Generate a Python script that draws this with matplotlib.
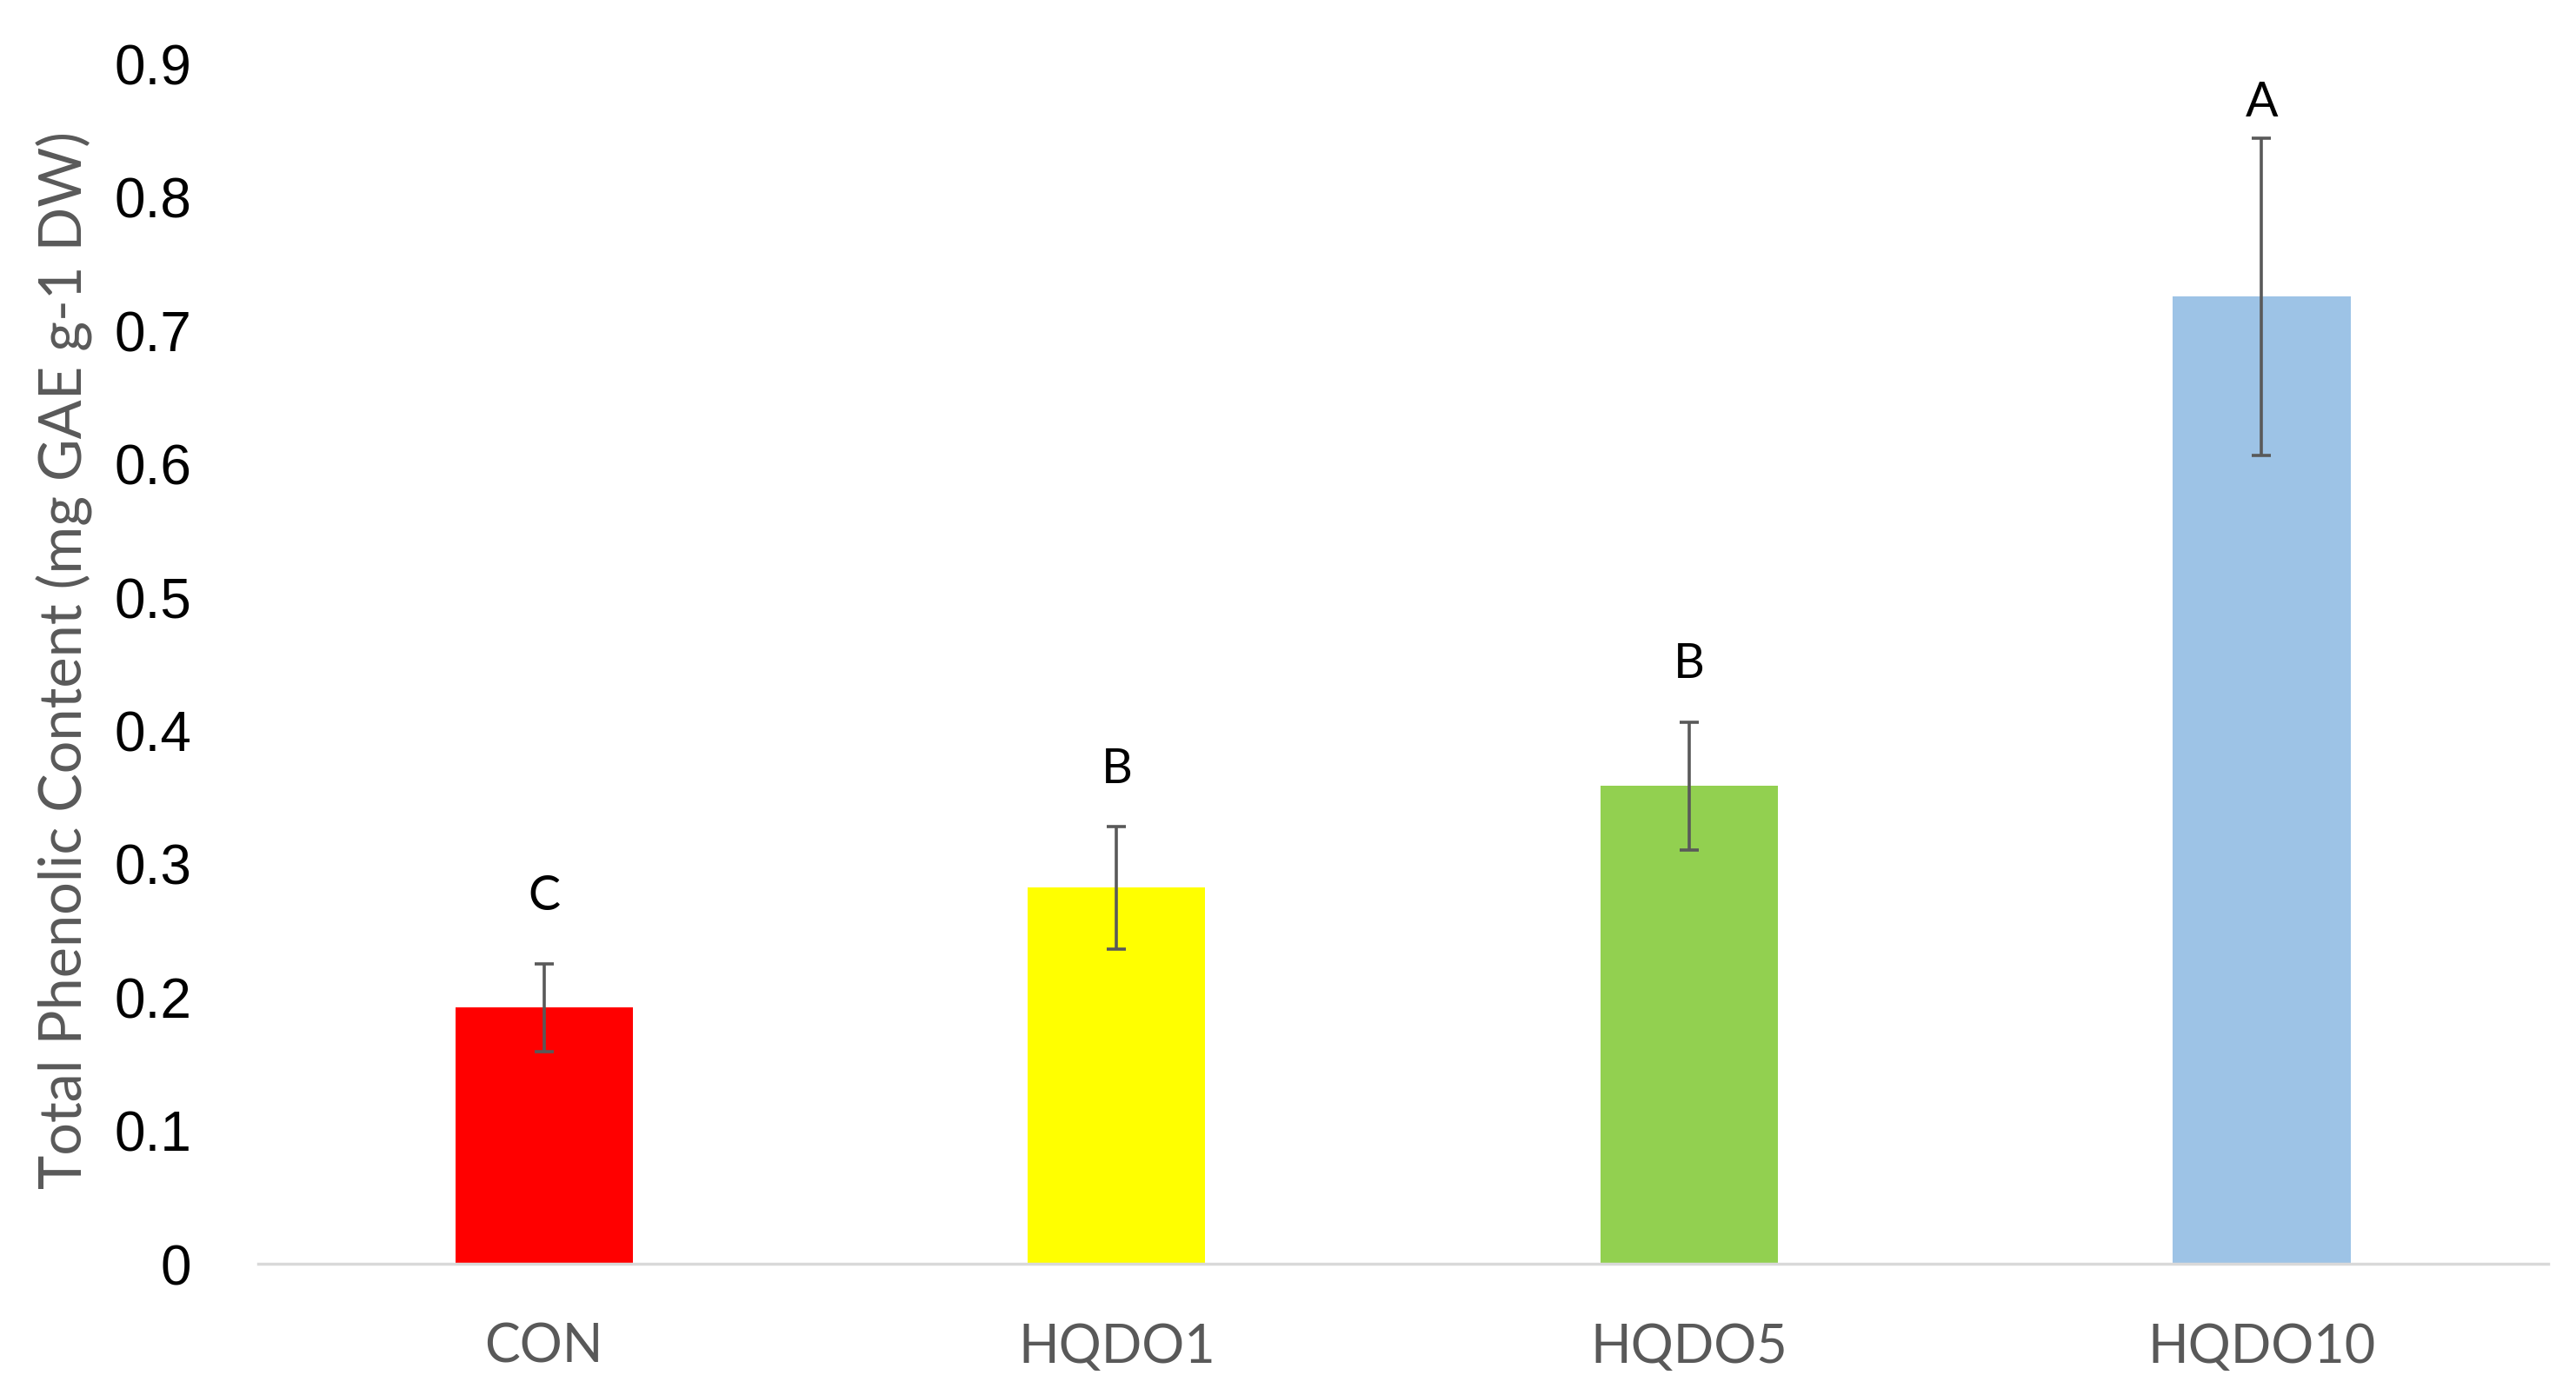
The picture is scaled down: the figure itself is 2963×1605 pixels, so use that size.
import matplotlib.pyplot as plt
import numpy as np

# data
groups = ['CON', 'HQDO1', 'HQDO5', 'HQDO10']
values = [0.192, 0.282, 0.358, 0.725]
errors = [0.033, 0.046, 0.048, 0.119]
letters = ['C', 'B', 'B', 'A']
letter_y = [0.276, 0.371, 0.450, 0.871]
colors = ['#FF0000', '#FFFF00', '#92D050', '#9DC3E6']

fig = plt.figure(figsize=(29.63, 16.06), dpi=100)
ax = fig.add_axes([0.1001, 0.0941, 0.889, 0.86])

x = np.arange(len(groups))
ax.bar(x, values, width=0.31, color=colors, zorder=2)
ax.errorbar(x, values, yerr=errors, fmt='none', ecolor='#595959',
            elinewidth=2.6, capsize=8, capthick=2.6, zorder=3)

for xi, lab, ly in zip(x, letters, letter_y):
    ax.text(xi, ly, lab, ha='center', va='center', fontsize=40,
            family='Lato', color='black')

ax.set_xlim(-0.5, 3.5)
ax.set_ylim(0, 0.9)
ax.set_yticks(np.arange(0, 0.91, 0.1))
ax.set_yticklabels(['0'] + ['%.1f' % v for v in np.arange(0.1, 0.91, 0.1)],
                   family='Liberation Sans', fontsize=46)
ax.set_xticks(x)
ax.set_xticklabels(groups, family='Lato', fontsize=44, color='#595959')
ax.tick_params(axis='both', length=0)
ax.tick_params(axis='y', pad=55)
ax.tick_params(axis='x', pad=48)

for s in ['top', 'right', 'left']:
    ax.spines[s].set_visible(False)
ax.spines['bottom'].set_color('#d9d9d9')
ax.spines['bottom'].set_linewidth(2.5)

fig.text(0.025, 0.527, 'Total Phenolic Content (mg GAE g-1 DW)', rotation=90,
         ha='center', va='center', fontsize=48, family='Lato', color='#595959')

fig.savefig('out.png', dpi=100)
